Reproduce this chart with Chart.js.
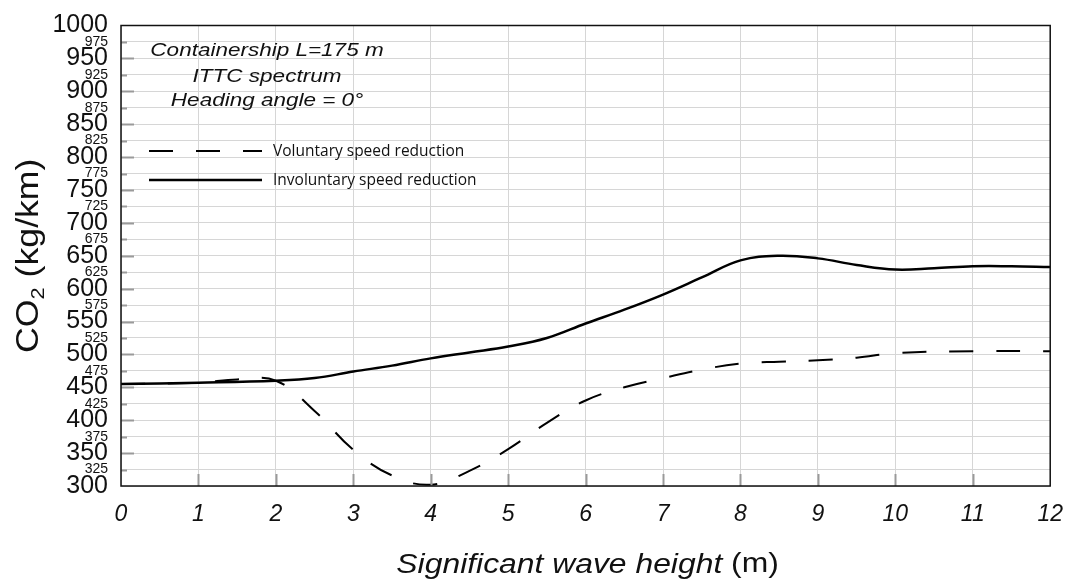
<!DOCTYPE html>
<html>
<head>
<meta charset="utf-8">
<script src="https://cdn.jsdelivr.net/npm/chart.js@4.4.1/dist/chart.umd.min.js"></script>
<style>
  html, body { margin: 0; padding: 0; background: #fff; }
  #wrap { width: 1078px; height: 584px; }
</style>
</head>
<body>
<div id="wrap"><canvas id="co2Chart" width="1078" height="584"></canvas></div>
<script>
// wave height (m) and CO2 (kg/km)
const waveHeightsInv = [0, 1, 2, 2.5, 3, 3.5, 4, 4.5, 5, 5.5, 6, 6.5, 7, 7.5, 8, 8.5, 9, 9.5, 10, 10.5, 11, 11.5, 12];
const involuntaryCO2 = [455, 457, 460, 464, 474, 483, 494, 503, 512, 525, 547, 568, 591, 617, 643, 650, 646, 636, 629, 631, 634, 634, 633];

const waveHeightsVol = [0, 1, 1.5, 2, 2.5, 3, 3.5, 4, 4.5, 5, 5.5, 6, 6.5, 7, 7.5, 8, 8.5, 9, 9.5, 10, 11, 12];
const voluntaryCO2 = [455, 457, 462, 460, 414, 355, 316, 302, 323, 356, 396, 430, 450, 464, 477, 486, 489, 491, 495, 502, 505, 505];

const seriesNames = ['Voluntary speed reduction', 'Involuntary speed reduction'];
const noteLines = ['Containership L=175 m', 'ITTC spectrum', 'Heading angle = 0\u00b0'];
const xTitle = ['Significant wave height', ' (m)'];
const yTitle = ['CO', '2', ' (kg/km)'];

function toPoints(xs, ys) {
    return xs.map((x, i) => ({ x: x, y: ys[i] }));
}

const FONT = '"Liberation Sans", Arial, sans-serif';

// 自訂繪製：外框、內側刻度、軸標題、註解、圖例
const decorPlugin = {
    id: 'decor',
    afterDraw(chart) {
        const ctx = chart.ctx;
        const area = chart.chartArea;
        const xs = chart.scales.x;
        const ys = chart.scales.y;
        ctx.save();

        // inner tick marks
        ctx.strokeStyle = '#9a9a9a';
        ctx.lineWidth = 2;
        for (let v = 325; v < 1000; v += 25) {
            const py = Math.round(ys.getPixelForValue(v)) + 0.5;
            const len = v % 50 === 0 ? 13 : 6;
            ctx.beginPath();
            ctx.moveTo(area.left, py);
            ctx.lineTo(area.left + len, py);
            ctx.stroke();
        }
        for (let v = 1; v < 12; v++) {
            const px = Math.round(xs.getPixelForValue(v)) + 0.5;
            ctx.beginPath();
            ctx.moveTo(px, area.bottom);
            ctx.lineTo(px, area.bottom - 12);
            ctx.stroke();
        }

        // frame
        ctx.strokeStyle = '#111';
        ctx.lineWidth = 1.5;
        ctx.strokeRect(area.left, area.top, area.right - area.left, area.bottom - area.top);

        // x title
        ctx.fillStyle = '#111';
        ctx.textBaseline = 'middle';
        ctx.save();
        ctx.translate((area.left + area.right) / 2 + 2, 565);
        ctx.scale(1.18, 1);
        ctx.font = 'italic 27px ' + FONT;
        const w1 = ctx.measureText(xTitle[0]).width;
        ctx.font = '27px ' + FONT;
        const w2 = ctx.measureText(xTitle[1]).width;
        const sx = -(w1 + w2) / 2;
        ctx.textAlign = 'left';
        ctx.font = 'italic 27px ' + FONT;
        ctx.fillText(xTitle[0], sx, 0);
        ctx.font = '27px ' + FONT;
        ctx.fillText(xTitle[1], sx + w1, 0);
        ctx.restore();

        // y title (rotated)
        ctx.save();
        ctx.translate(29, (area.top + area.bottom) / 2);
        ctx.rotate(-Math.PI / 2);
        ctx.scale(1.15, 1);
        ctx.textAlign = 'left';
        ctx.font = '31px ' + FONT;
        const a = ctx.measureText(yTitle[0]).width;
        const c = ctx.measureText(yTitle[2]).width;
        ctx.font = '19px ' + FONT;
        const b = ctx.measureText(yTitle[1]).width;
        const ty = -(a + b + c) / 2;
        ctx.font = '31px ' + FONT;
        ctx.fillText(yTitle[0], ty, 0);
        ctx.font = '19px ' + FONT;
        ctx.fillText(yTitle[1], ty + a, 10);
        ctx.font = '31px ' + FONT;
        ctx.fillText(yTitle[2], ty + a + b, 0);
        ctx.restore();

        // note text
        ctx.textAlign = 'center';
        ctx.font = 'italic 18px ' + FONT;
        const noteY = [51, 77, 101];
        noteLines.forEach((t, i) => {
            ctx.save();
            ctx.translate(267, noteY[i]);
            ctx.scale(1.25, 1);
            ctx.fillText(t, 0, 0);
            ctx.restore();
        });

        // legend
        ctx.textAlign = 'left';
        ctx.font = '15.5px "Open Sans", sans-serif';
        const legY = [151, 180];
        chart.data.datasets.forEach((ds, i) => {
            ctx.strokeStyle = ds.borderColor;
            ctx.lineWidth = ds.borderWidth;
            ctx.setLineDash(ds.borderDash || []);
            ctx.beginPath();
            ctx.moveTo(149, legY[i]);
            ctx.lineTo(262, legY[i]);
            ctx.stroke();
            ctx.setLineDash([]);
            ctx.fillStyle = '#111';
            ctx.fillText(ds.label, 273, legY[i] + 1);
        });

        ctx.restore();
    }
};

const ctx = document.getElementById('co2Chart');
new Chart(ctx, {
    type: 'line',
    data: {
        datasets: [
            {
                label: seriesNames[0],
                data: toPoints(waveHeightsVol, voluntaryCO2),
                borderColor: '#000',
                borderWidth: 2,
                borderDash: [24, 23],
                pointRadius: 0,
                tension: 0.4,
                fill: false
            },
            {
                label: seriesNames[1],
                data: toPoints(waveHeightsInv, involuntaryCO2),
                borderColor: '#000',
                borderWidth: 2.5,
                pointRadius: 0,
                tension: 0.4,
                fill: false
            }
        ]
    },
    options: {
        responsive: false,
        animation: false,
        devicePixelRatio: 1,
        layout: { padding: { top: 21, right: 27, left: 0, bottom: 0 } },
        scales: {
            x: {
                type: 'linear',
                min: 0,
                max: 12,
                afterFit: s => { s.height = 98; },
                border: { display: false },
                grid: { color: '#d6d6d6', lineWidth: 1, drawTicks: false },
                ticks: {
                    stepSize: 1,
                    padding: 15,
                    color: '#111',
                    maxRotation: 0,
                    callback: v => String(v),
                    font: { family: FONT, size: 23, style: 'italic' }
                }
            },
            y: {
                min: 300,
                max: 1000,
                afterFit: s => { s.width = 121; },
                border: { display: false },
                grid: { color: '#d6d6d6', lineWidth: 1, drawTicks: false },
                ticks: {
                    stepSize: 25,
                    padding: 13,
                    color: '#111',
                    autoSkip: false,
                    callback: v => String(v),
                    font: c => ({
                        family: FONT,
                        size: c.tick && c.tick.value % 50 === 0 ? 25 : 14,
                        lineHeight: 1
                    })
                }
            }
        },
        plugins: {
            legend: { display: false },
            tooltip: { enabled: false }
        }
    },
    plugins: [decorPlugin]
});
</script>
</body>
</html>
